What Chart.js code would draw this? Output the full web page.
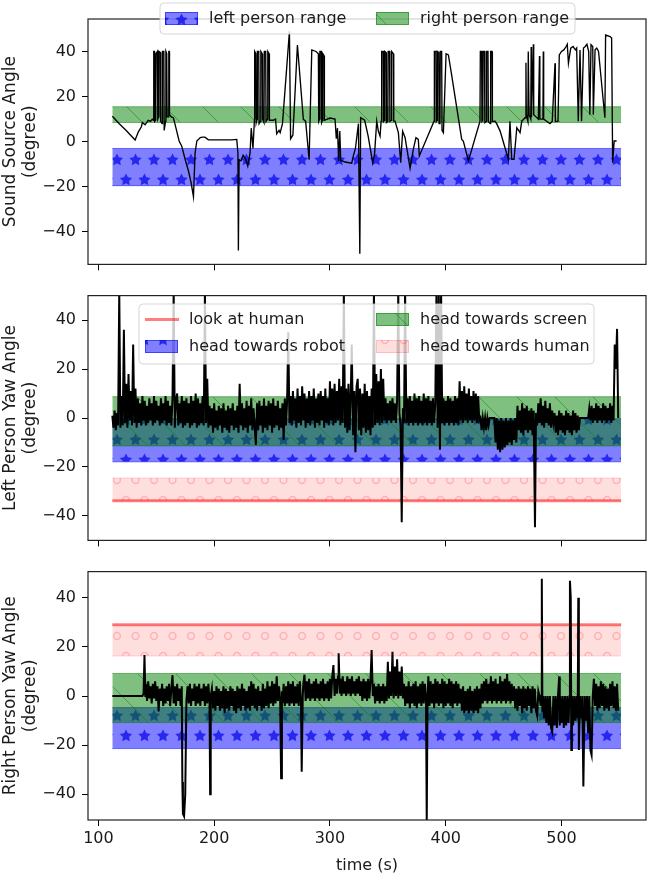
<!DOCTYPE html>
<html>
<head>
<meta charset="utf-8">
<script src="https://cdn.jsdelivr.net/npm/chart.js@4.4.1/dist/chart.umd.min.js"></script>
<style>
  html, body { margin: 0; padding: 0; background: #fff; }
  .panel { position: absolute; left: 0; width: 648px; }
</style>
</head>
<body>
<div class="panel" style="top:0;height:280px"><canvas id="soundChart"></canvas></div>
<div class="panel" style="top:280px;height:276px"><canvas id="leftChart"></canvas></div>
<div class="panel" style="top:556px;height:320px"><canvas id="rightChart"></canvas></div>
<script>
// axis ticks
const timeTicks = [100, 200, 300, 400, 500];
const angleTicks = [-40, -20, 0, 20, 40];
const bandSpan = [112, 551.5];

// reference ranges (degree)
const soundLeftRange = [-19.5, -3];
const soundRightRange = [8.5, 15.5];

const leftRobotRange = [-17.9, -0.3];
const leftScreenRange = [-11.4, 8.7];
const leftHumanRange = [-33.8, -24.5];
const leftLookHuman = -33.8;

const rightRobotRange = [-21.4, -4.7];
const rightScreenRange = [-10.8, 9.2];
const rightHumanRange = [16.3, 29];
const rightLookHuman = 29;

// [time (s), angle (degree)]
const soundAngle = [
  [112.1,11.3],[118,8],[124,5],[131.7,0.8],[134.6,4.5],[137,6.5],[138,8.5],[140.3,7.5],[143,9.5],[145,9],[146.5,10],
  [147.5,9.5],[147.8,40],[148.3,40],[148.6,9],[149.5,9.5],[149.8,39],[151,40],[151.3,10],[152,11],[152.3,40],[153.5,39.5],[153.8,9],
  [155,8],[155.3,40],[156.5,40],[156.8,5],[158,9],[158.3,40],[159,39],[159.3,11],[160.5,11],[160.8,40],[161.1,40],[161.4,12],
  [163,11],[164.8,10.5],[167,6],[169.7,0.3],[172,-2],[175,-8],[177.8,-13],[180,-18],[182.1,-24.4],[183.5,-5],[185,0.3],[188,1.8],
  [190,2],[192,2],[195,0.8],[205,0.8],[215,0.8],[219.5,1],[220.5,-5],[220.9,-48.2],[221.5,-8],[223.2,-8.5],[225,-6],[227,-7.5],
  [229,-10.8],[231,-5],[232,6],[233.5,-3],[234.8,10],[235,40],[236,39],[236.3,8.5],[237,10],[237.3,40],[238.5,40],[238.8,8],
  [240,9],[240.3,40],[241.5,39],[241.8,10],[243,8.5],[243.3,40],[244.5,40],[244.8,9],[246,10],[246.3,40],[247.4,39],[247.7,9.5],
  [251,9.5],[253,10],[254,3.5],[256,5],[257,4],[259,8],[265,49],[266,1.3],[268,3],[271.9,42.9],[277,10],[279,9],[282,-8],
  [284.3,40.7],[288,40],[290,39],[290.3,9],[291,10],[291.3,40],[292.5,40],[292.8,8.5],[293.5,9.5],[293.8,39],[295,38],[295.2,9.5],
  [300,10.5],[304.4,10],[305.5,1.3],[306.5,6],[307.5,-8.5],[308.5,4.7],[309.3,-8.5],[311,-8.5],[313,-9],[318.8,-9.5],[320.2,-6.3],
  [322,-3],[324.6,8],[325.8,-49.7],[326.5,10.6],[330,9.5],[333,2.5],[336.9,-9.3],[338.5,-5.6],[340.4,9.1],[341.8,4.7],[343.3,2.5],
  [344.2,9.1],[344.7,40],[346,40],[346.3,9],[347,9.5],[347.3,40],[348.5,39.5],[348.8,8.5],[350,9],[350.3,40],[351.5,40],[351.8,9],
  [353,9.5],[353.3,40],[354.8,39],[355.1,9.1],[356.2,9.1],[359.1,4],[361.1,-9.3],[362.8,4.7],[364.9,1.8],[369.2,-11.8],[372,-3.4],
  [374.3,1.8],[376.3,1],[377.2,-6.3],[389.9,9.1],[390.2,40],[391.5,40],[391.8,9],[392.5,9.5],[392.8,40],[394,39.5],[394.3,8],
  [395,8.5],[395.3,40],[396.5,40],[396.8,5],[398,4],[400.3,39],[402.3,38.5],[405,30],[413.8,1],[415.2,0.3],[419.6,-8.5],
  [429.6,9.1],[429.9,40],[431,40],[431.3,9],[432,9.5],[432.3,40],[433.5,40],[433.8,8.5],[435,9],[435.3,40],[436.5,40],[436.8,9],
  [438.5,8],[438.8,40],[440,40],[440.3,9],[442.6,9.1],[444,8],[447,4.7],[454.1,-7.8],[455.5,9.1],[457,-7.8],[459,-7.8],[461.4,6.2],
  [464.2,4],[465.7,9.1],[468.5,10.6],[469.3,35],[469.6,12],[471,9],[471.3,40],[472,12],[473.5,10],[473.8,42],[474.1,11],
  [475.7,43.2],[476,12],[478,11],[480,10],[481,38],[481.3,10],[484,10],[484.3,40],[484.6,10],[487.2,9.1],[490,8],[492,9],
  [494.4,34.8],[494.7,9],[497,9.1],[498.1,38.5],[500,40],[502,40.7],[504,42.2],[505,43.2],[506,34.8],[508,41.5],[510,42.2],
  [512,40.7],[513.1,41.5],[514.5,9.1],[516,40.7],[517.3,9.1],[519,41.5],[520.5,42.2],[522,43.2],[523.5,40],[524.5,12],[525.5,43],
  [527,42.2],[527.5,12],[529,40.7],[530.5,41.5],[532,40],[537.5,10.6],[538.1,47.3],[542,46.6],[543.3,46],[544.2,-9.3],[545.5,0.3],
  [547.6,0.3]
];

const leftYaw = [
  [112,1],[113,-4],[114,3],[115,-5],[116,2],[117,-3],[118,52],[119,-4],[120,9],[121,-3],[122,36],[123,-2],[124,14],[125,-4],
  [126,18],[127,-1],[128,11],[129,-3],[130,30],[131,-2],[132,12],[133,-4],[134,8],[135,-2],[136,6],[137,-3],[138,9],[139,-1],
  [140,7],[141,-3],[142,5],[143,-2],[144,8],[145,-1],[146,6],[147,-3],[148,9],[149,-2],[150,7],[151,-1],[152,5],[153,-3],
  [154,8],[155,-2],[156,6],[157,-1],[158,9],[159,-3],[160,7],[161,-2],[162,5],[163,-3],[164,8],[165,52],[166,-4],[167,7],
  [168,10],[169,-3],[170,6],[171,-2],[172,9],[173,-4],[174,7],[175,-3],[176,8],[177,-2],[178,6],[179,-4],[180,9],[181,-3],
  [182,7],[183,-2],[184,10],[185,-4],[186,8],[187,-3],[188,6],[189,-2],[190,9],[191,-3],[192,52],[193,-2],[194,16],[195,-4],
  [196,5],[197,-3],[198,4],[199,-6],[200,6],[201,-4],[202,3],[203,-5],[204,5],[205,-3],[206,4],[207,-6],[208,6],[209,-4],
  [210,3],[211,-5],[212,5],[213,-6],[214,4],[215,-3],[216,6],[217,-5],[218,3],[219,-4],[220,5],[221,-6],[222,14],[223,-3],
  [224,6],[225,-5],[226,4],[227,-4],[228,7],[229,-6],[230,5],[231,-3],[232,8],[233,-5],[234,4],[235,-4],[236,-11],[237,6],
  [238,-5],[239,7],[240,-3],[241,5],[242,-6],[243,8],[244,-4],[245,5],[246,-5],[247,7],[248,-3],[249,6],[250,-6],[251,8],
  [252,-4],[253,5],[254,-3],[255,7],[256,-5],[257,4],[258,-4],[259,6],[260,-9],[261,8],[262,-3],[263,7],[264,35],[265,-2],
  [266,9],[267,-3],[268,11],[269,-1],[270,8],[271,-4],[272,12],[273,-2],[274,9],[275,-3],[276,13],[277,-1],[278,10],[279,-4],
  [280,8],[281,-2],[282,11],[283,-3],[284,9],[285,-1],[286,12],[287,-4],[288,8],[289,-2],[290,10],[291,-3],[292,11],[293,-1],
  [294,9],[295,-4],[296,12],[297,-2],[298,8],[299,-3],[300,15],[301,-1],[302,12],[303,-3],[304,14],[305,-2],[306,11],[307,-1],
  [308,16],[309,-3],[310,13],[311,-2],[312,52],[313,-4],[314,12],[315,-6],[316,14],[317,-5],[318,10],[318.8,30],[320,-7],
  [321,11],[322,-14],[323,13],[324,16],[325,-5],[326,12],[327,-7],[328,10],[329,-4],[330,14],[331,-6],[332,11],[333,-5],
  [334,9],[335,-7],[336,12],[337,-4],[338,52],[339,-3],[340,18],[341,-2],[342,15],[343,-3],[344,20],[345,-2],[346,16],[347,-1],
  [348,8],[349,-2],[350,6],[351,-1],[352,7],[353,-2],[354,8],[355,-1],[356,6],[357,-2],[358,7],[359,52],[360,2],[361,-3],
  [362,-42.6],[363,4],[364,-2],[364.9,52],[366,-2],[367,8],[368,-3],[369,9],[370,-2],[371,7],[372,-3],[373,10],[374,-2],
  [375,8],[376,-3],[377,9],[378,-2],[379,7],[380,-3],[381,10],[382,-2],[383,8],[384,-3],[385,9],[386,-2],[387,7],[388,-3],
  [389,8],[390,-2],[391,6],[392,52],[393,-4],[394,52],[395,-13],[396,52],[397,-2],[398,8],[399,-3],[400,7],[401,-2],[402,9],
  [403,-3],[404,8],[405,-2],[406,7],[407,-3],[408,9],[409,-2],[410,8],[411,-3],[412,15],[413,-1],[414,11],[415,-2],[416,13],
  [417,-1],[418,10],[419,-2],[420,12],[421,-1],[422,9],[423,-2],[424,11],[425,-1],[426,10],[427,-2],[428,9],[429,-1],[430,0],
  [431,-5],[432,0],[433,-4],[434,0],[435,-5],[436,0],[437,-3],[438,0],[442,0],[443,-10],[444,0],[445,-13],[446,-1],[447,-14],
  [448,0],[449,-13],[450,-1],[451,-12],[452,0],[453,-11],[454,-1],[455,-10],[456,0],[457,-11],[458,-1],[459,-9],[460,0],
  [461,-10],[462,5],[463,-5],[464,3],[465,-6],[466,6],[467,-7],[468,4],[469,-5],[470,5],[471,-6],[472,3],[473,-5],[474,4],
  [475,-7],[476,3],[477.1,-44.6],[478,2],[479,-3],[480,6],[481,-2],[482,8],[483,-3],[484,5],[485,-4],[486,7],[487,-2],[488,4],
  [489,-3],[490,6],[491,-4],[492,3],[493,-2],[494,2],[495,-6],[496,1],[497,-7],[498,3],[499,-5],[500,2],[501,-6],[502,1],
  [503,-7],[504,3],[505,-5],[506,2],[507,-6],[508,1],[509,-7],[510,3],[511,-5],[512,2],[513,-6],[514,1],[515,-5],[516,0],
  [517,0],[523,0],[524,4],[525,-1],[526,5],[527,-2],[528,4],[529,-1],[530,6],[531,-2],[532,5],[533,-1],[534,4],[535,-2],
  [536,6],[537,-1],[538,5],[539,-2],[540,4],[541,-1],[542,6],[543,-2],[544,5],[545,-1],[546,30],[547,20],[548,36.4],[549,0]
];

const rightYaw = [
  [112,0],[138,0],[139,1],[139.8,16.7],[140.5,0],[141,5],[142,-2],[143,6],[144,-1],[145,4],[146,-3],[147,5],[148,-1],[149,6],
  [150,-2],[151,4],[152,-6.3],[153,3],[154,-2],[155,5],[156,-4],[157,3],[158,-3],[159,4],[160,-2],[161,5],[162,-4],[163,3],
  [164,8.5],[165,-3],[166,4],[167,-4],[168,5],[169,-2],[170,3],[171,-4],[172,4],[172.5,-35],[173,-48],[174,-49],[175,-40],
  [176,-2],[177,4],[178,-3],[179,5],[180,-4],[181,3],[182,-2],[183,5],[184,-4],[185,4],[186,-3],[187,5],[188,-4],[189,3],
  [190,-2],[191,5],[192,-4],[193,4],[194,-3],[195,5],[196,-3],[196.5,-40],[197,0],[198,3],[199,-5],[200,2],[201,-6],[202,4],
  [203,-4],[204,3],[205,-6],[206,2],[207,-5],[208,4],[209,-7],[210,3],[211,-5],[212,2],[213,-6],[214,4],[215,-4],[216,3],
  [217,-6],[218,2],[219,-7],[220,4],[221,-5],[222,3],[223,-6],[224,5],[225,-4],[226,3],[227,-6],[228,2],[229,-5],[230,4],
  [231,-6],[232,6],[233,-4],[234,5],[235,-5],[236,3],[237,-6],[238,4],[239,-4],[240,2],[241,-6],[242,5],[243,-5],[244,3],
  [245,-4],[246,6],[247,-5],[248,4],[249,-3],[250,6],[251,-4],[252,5],[253,-3],[254,8],[255,-2],[256,4],[257,-2],[257.8,-33.5],
  [258.5,2],[259,-3],[260,5],[261,-4],[262,4],[263,-3],[264,6],[265,-4],[266,5],[267,-3],[268,6],[269,-4],[270,4],[271,-3],
  [272,5],[273,-4],[274,6],[275,-3],[275.6,-30.8],[276.5,0],[277,5],[278,8.7],[279,-2],[280,6],[281,-1],[282,7],[283,-2],
  [284,5],[285,-1],[286,6],[287,-2],[288,7],[289,-1],[290,5],[291,-2],[292,6],[293,-1],[294,7],[295,-2],[296,5],[297,-1],
  [298,6],[299,-2],[300,7],[301,-1],[302,8],[303,12.6],[304,0],[305,7],[306,1],[307,8],[307.5,17.4],[308.5,1],[309,7],
  [310,0],[311,8],[312,1],[313,6],[314,0],[315,8],[316,1],[317,7],[318,0],[319,8],[320,1],[321,6],[322,0],[323,7],[324,1],
  [325,8],[326,0],[327,6],[328,-2],[329,7],[330,-1],[331,6],[332,-2],[333,7],[334,-1],[335,6],[336,18.7],[337,0],[338,5],
  [339,-3],[340,4],[341,-2],[342,5],[343,-3],[344,4],[345,-2],[346,5],[347,-3],[348,4],[349,-2],[350,14],[351,-1],[352,10],
  [353,0],[354,18],[355,-1],[356,12],[357,0],[358,15],[359,-1],[360,10],[361,0],[362,12],[363,-1],[364,5],[365,-4],[366,4],
  [367,-3],[368,6],[369,-5],[370,4],[371,-3],[372,5],[373,-4],[374,6],[375,-5],[376,4],[377,-3],[378,5],[379,-4],[380,6],
  [381,-3],[382,5],[383,-2],[383.6,-52],[384.3,0],[385,8],[386,-4],[387,6],[388,-3],[389,5],[390,-5],[391,7],[392,-3],
  [393,6],[394,-4],[395,5],[396,-3],[397,7],[398,-5],[399,6],[400,-4],[401,5],[402,-3],[403,7],[404,-4],[405,6],[406,-5],
  [407,5],[408,-3],[409,6],[410,-4],[411,5],[412,-3],[413,3],[414,-6],[415,4],[416,-7],[417,2],[418,-6],[419,3],[420,-7],
  [421,4],[422,-6],[423,2],[424,-7],[425,3],[426,-6],[427,4],[428,-7],[429,3],[430,-5],[431,5],[432,-3],[433,6],[434,-2],
  [435,7],[436,-3],[437,5],[438,-2],[439,8],[440,-3],[441,6],[442,-2],[443,7],[444,-3],[445,5],[446,-2],[447,8],[448,-3],
  [449,6],[450,-2],[451,7],[452,-3],[453,9],[454,-2],[455,6],[456,-3],[457,5],[458,-2],[459,4],[460,-5],[461,3],[462,-6],
  [463,4],[464,-4],[465,3],[466,-7],[467,4],[468,-5],[469,3],[470,-6],[471,4],[472,-4],[473,3],[474,-7],[475,4],[476,-5],
  [477,3],[478,-6],[479,-8],[480,2],[481,0],[482,-4],[482.5,0],[483,47.8],[483.5,-6],[484,0],[485,-9],[486,0],[487,-11],
  [488,0],[489,-12],[490,0],[491,-13],[492,-14.5],[493,0],[494,-12],[495,0],[496,-13],[497,0],[498,8],[498.5,-12],[499,0],
  [500,-11],[501,0],[502,-13],[503,0],[504,-12],[505,0],[506,-11],[507,0],[507.3,47],[508,40],[508.5,-22],[509,0],[510,-12],
  [511,0],[512,-10],[513,0],[514,-9],[514.5,40],[515,-22],[516,0],[517,-9],[518,0],[518.9,-36.8],[520,0],[521,-10],[522,0],
  [523,-15],[524,0],[525,-22],[526,-24],[527,0],[528,7],[529,-4],[530,5],[531,-6],[532,4],[533,-5],[534,6],[535,-4],[536,5],
  [537,-6],[538,4],[539,-5],[540,3],[541,-6],[542,5],[543,-4],[544,6],[545,-5],[546,4],[547,-6],[548,5],[549,-6]
];

// ---------- patterns ----------
function makePattern(w, h, paint) {
  const c = document.createElement('canvas');
  c.width = w; c.height = h;
  paint(c.getContext('2d'));
  return c.getContext('2d').createPattern(c, 'repeat');
}
function starPath(ctx, cx, cy, R) {
  const r = R * 0.5;
  ctx.moveTo(cx, cy - R);
  for (let i = 1; i < 10; i++) {
    const a = -Math.PI / 2 + i * Math.PI / 5;
    const rad = i % 2 ? r : R;
    ctx.lineTo(cx + rad * Math.cos(a), cy + rad * Math.sin(a));
  }
  ctx.closePath();
}
const gridSpots = [[6,0],[24.5,0],[6,40],[24.5,40],[15,20],[33.5,20],[-3.5,20]];
const blueStars = makePattern(37, 40, ctx => {
  ctx.fillStyle = 'rgba(0,0,255,0.5)';
  ctx.fillRect(0, 0, 37, 40);
  ctx.fillStyle = 'rgba(10,10,235,0.75)';
  ctx.beginPath();
  gridSpots.forEach(([x, y]) => starPath(ctx, x, y, 6.5));
  ctx.fill();
});
const greenHatch = makePattern(38, 38, ctx => {
  ctx.fillStyle = 'rgba(0,128,0,0.5)';
  ctx.fillRect(0, 0, 38, 38);
  ctx.strokeStyle = 'rgba(0,128,0,0.5)';
  ctx.lineWidth = 1;
  ctx.beginPath();
  [-18, 20].forEach(c => { ctx.moveTo(c, 0); ctx.lineTo(c + 38, 38); });
  ctx.stroke();
});
const pinkCircles = makePattern(37, 40, ctx => {
  ctx.fillStyle = 'rgba(255,0,0,0.13)';
  ctx.fillRect(0, 0, 37, 40);
  ctx.strokeStyle = 'rgba(255,0,0,0.2)';
  ctx.lineWidth = 1.5;
  gridSpots.forEach(([x, y]) => { ctx.beginPath(); ctx.arc(x, y, 3.4, 0, Math.PI * 2); ctx.stroke(); });
});

const BLUE_EDGE = 'rgba(0,0,255,0.5)';
const GREEN_EDGE = 'rgba(0,128,0,0.5)';
const PINK_EDGE = 'rgba(255,0,0,0.15)';
const RED_LINE = 'rgba(255,0,0,0.5)';
const TEXT = '#1a1a1a';
const FONT = '"DejaVu Sans", sans-serif';

// ---------- helpers ----------
const pts = arr => arr.map(([x, y]) => ({x, y}));
const flat = v => [{x: bandSpan[0], y: v}, {x: bandSpan[1], y: v}];
function band(range, pattern, edge, order) {
  return [
    {data: flat(range[1]), borderColor: edge, borderWidth: 1, pointRadius: 0, fill: false, order},
    {data: flat(range[0]), borderColor: edge, borderWidth: 1, pointRadius: 0, fill: '-1', backgroundColor: pattern, order}
  ];
}
function series(arr, width) {
  return {data: pts(arr), borderColor: '#000', borderWidth: width, pointRadius: 0, fill: false, order: 0};
}
function roundRect(ctx, x, y, w, h, r) {
  ctx.beginPath();
  ctx.moveTo(x + r, y);
  ctx.arcTo(x + w, y, x + w, y + h, r);
  ctx.arcTo(x + w, y + h, x, y + h, r);
  ctx.arcTo(x, y + h, x, y, r);
  ctx.arcTo(x, y, x + w, y, r);
  ctx.closePath();
}
function drawLegend(ctx, box, items) {
  if (!box) return;
  ctx.save();
  roundRect(ctx, box.x, box.y, box.w, box.h, 4);
  ctx.fillStyle = 'rgba(255,255,255,0.8)';
  ctx.fill();
  ctx.strokeStyle = 'rgba(204,204,204,0.8)';
  ctx.lineWidth = 1;
  ctx.stroke();
  ctx.font = '16px ' + FONT;
  ctx.textBaseline = 'middle';
  items.forEach(it => {
    if (it.line) {
      ctx.strokeStyle = it.line; ctx.lineWidth = 3;
      ctx.beginPath(); ctx.moveTo(it.x, it.y); ctx.lineTo(it.x + 34, it.y); ctx.stroke();
    } else {
      ctx.fillStyle = it.fill; ctx.fillRect(it.x, it.y - 6.5, 33, 13);
      ctx.strokeStyle = it.edge; ctx.lineWidth = 1; ctx.strokeRect(it.x + 0.5, it.y - 6, 32, 12);
    }
    ctx.fillStyle = TEXT;
    ctx.fillText(it.label, it.x + 44, it.y);
  });
  ctx.restore();
}
const minusLabel = v => (v < 0 ? '\u2212' + Math.abs(v) : String(v));

function makePanel(id, o) {
  const tickGrid = {display: true, drawOnChartArea: false, drawTicks: true, tickLength: 6, color: '#000', lineWidth: 1};
  return new Chart(document.getElementById(id), {
    type: 'line',
    data: {datasets: o.datasets},
    options: {
      responsive: true, maintainAspectRatio: false, animation: false, devicePixelRatio: 1,
      layout: {padding: {top: o.padTop, right: 2, left: 0, bottom: 0}},
      plugins: {legend: {display: false}, tooltip: {enabled: false}},
      scales: {
        x: {
          type: 'linear', min: 91, max: 573,
          afterBuildTicks: s => { s.ticks = timeTicks.map(v => ({value: v})); },
          afterFit: s => { s.height = o.xHeight; },
          ticks: {display: o.xLabels, font: {family: FONT, size: 16}, color: TEXT, padding: 3, maxRotation: 0},
          grid: tickGrid, border: {display: false},
          title: {display: o.xLabels, text: 'time (s)', font: {family: FONT, size: 16}, color: TEXT, padding: {top: 0, bottom: 1}}
        },
        y: {
          type: 'linear', min: o.yMin, max: o.yMax,
          afterBuildTicks: s => { s.ticks = angleTicks.map(v => ({value: v})); },
          afterFit: s => { s.width = 88; },
          ticks: {font: {family: FONT, size: 16}, color: TEXT, padding: 6, callback: minusLabel},
          grid: tickGrid, border: {display: false},
          title: {display: true, text: o.yTitle, font: {family: FONT, size: 17}, color: TEXT, padding: {top: 0, bottom: 0}}
        }
      }
    },
    plugins: [{
      id: 'frameAndLegend',
      afterDraw(chart) {
        const {ctx, chartArea: a} = chart;
        ctx.save();
        ctx.strokeStyle = '#222';
        ctx.lineWidth = 1.2;
        ctx.strokeRect(a.left, a.top, a.right - a.left, a.bottom - a.top);
        ctx.restore();
        drawLegend(ctx, o.legendBox, o.legendItems);
      }
    }]
  });
}

makePanel('soundChart', {
  padTop: 19, xHeight: 14, xLabels: false, yMin: -54.4, yMax: 54.4,
  yTitle: ['Sound Source Angle', '(degree)'],
  datasets: [
    series(soundAngle, 1.35),
    ...band(soundRightRange, greenHatch, GREEN_EDGE, 3),
    ...band(soundLeftRange, blueStars, BLUE_EDGE, 4)
  ],
  legendBox: {x: 160, y: 3, w: 415, h: 31},
  legendItems: [
    {x: 165, y: 18.5, fill: blueStars, edge: BLUE_EDGE, label: 'left person range'},
    {x: 376, y: 18.5, fill: greenHatch, edge: GREEN_EDGE, label: 'right person range'}
  ]
});

makePanel('leftChart', {
  padTop: 15, xHeight: 14, xLabels: false, yMin: -50, yMax: 50,
  yTitle: ['Left Person Yaw Angle', '(degree)'],
  datasets: [
    series(leftYaw, 2),
    {data: flat(leftLookHuman), borderColor: RED_LINE, borderWidth: 3, pointRadius: 0, fill: false, order: 1},
    ...band(leftHumanRange, pinkCircles, PINK_EDGE, 2),
    ...band(leftScreenRange, greenHatch, GREEN_EDGE, 3),
    ...band(leftRobotRange, blueStars, BLUE_EDGE, 4)
  ],
  legendBox: {x: 139, y: 24, w: 455, h: 60},
  legendItems: [
    {x: 145, y: 39.5, line: RED_LINE, label: 'look at human'},
    {x: 145, y: 66.5, fill: blueStars, edge: BLUE_EDGE, label: 'head towards robot'},
    {x: 376, y: 39.5, fill: greenHatch, edge: GREEN_EDGE, label: 'head towards screen'},
    {x: 376, y: 66.5, fill: pinkCircles, edge: PINK_EDGE, label: 'head towards human'}
  ]
});

makePanel('rightChart', {
  padTop: 15, xHeight: 56, xLabels: true, yMin: -50.5, yMax: 50.7,
  yTitle: ['Right Person Yaw Angle', '(degree)'],
  datasets: [
    series(rightYaw, 2),
    {data: flat(rightLookHuman), borderColor: RED_LINE, borderWidth: 3, pointRadius: 0, fill: false, order: 1},
    ...band(rightHumanRange, pinkCircles, PINK_EDGE, 2),
    ...band(rightScreenRange, greenHatch, GREEN_EDGE, 3),
    ...band(rightRobotRange, blueStars, BLUE_EDGE, 4)
  ],
  legendBox: null,
  legendItems: []
});
</script>
</body>
</html>
